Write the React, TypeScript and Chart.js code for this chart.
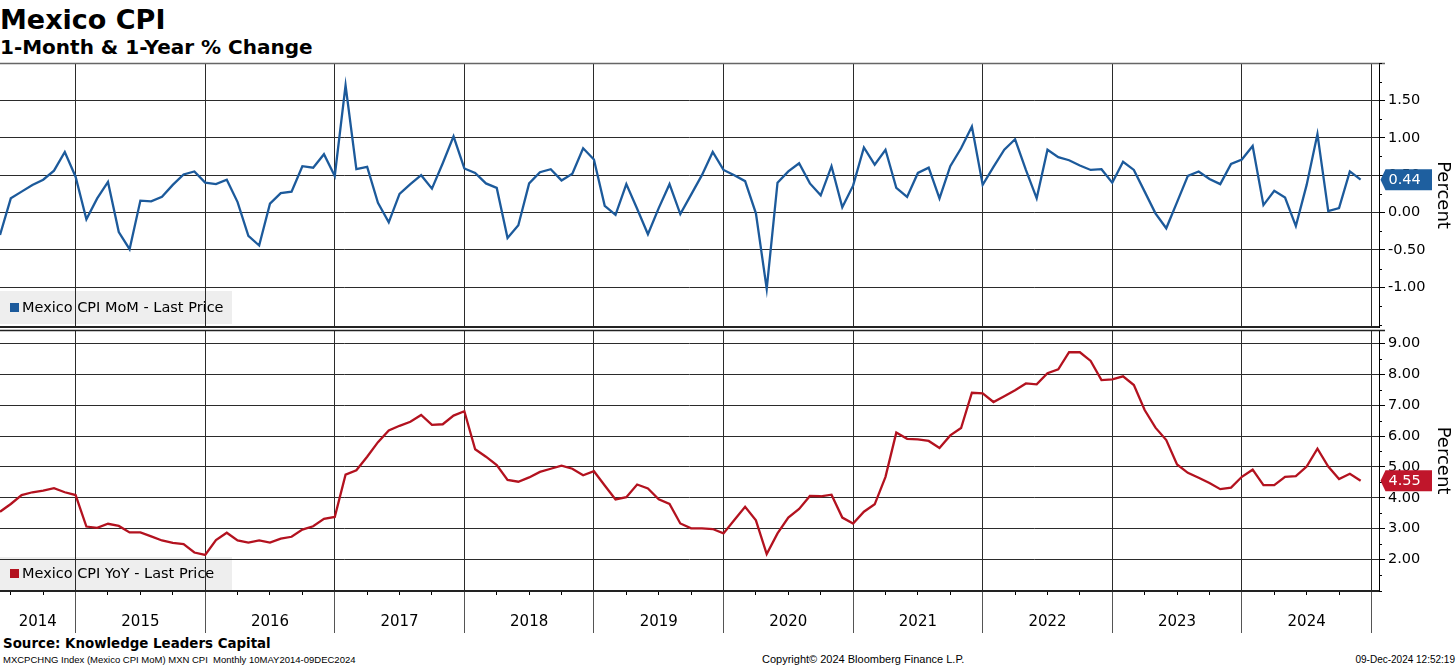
import React, { useEffect, useRef } from 'react';
import { Chart, registerables } from 'chart.js';

Chart.register(...registerables);

const FONT = '"DejaVu Sans", Verdana, sans-serif';
const SMALL_FONT = '"Liberation Sans", Arial, sans-serif';
const BLUE = '#1c5a9b';
const RED = '#b3121f';
const BLUE_BOX = '#1e5f9f';
const RED_BOX = '#c0162b';
const GRID = '#2b2b2b';

// first observation: May 2014 (month index 0), monthly to Nov 2024
const startMonth = 4; // 0 = January
const yearLabels = ['2014', '2015', '2016', '2017', '2018', '2019', '2020', '2021', '2022', '2023', '2024'];

// Mexico CPI MoM (%)
const momValues = [
  -0.30, 0.19, 0.28, 0.37, 0.44, 0.56, 0.81, 0.48, -0.09, 0.19, 0.41, -0.26,
  -0.49, 0.16, 0.15, 0.21, 0.37, 0.51, 0.55, 0.40, 0.38, 0.44, 0.14, -0.31,
  -0.44, 0.12, 0.26, 0.28, 0.62, 0.60, 0.78, 0.49, 1.70, 0.58, 0.61, 0.13,
  -0.13, 0.25, 0.38, 0.50, 0.32, 0.66, 1.02, 0.59, 0.53, 0.39, 0.33, -0.34,
  -0.17, 0.39, 0.54, 0.58, 0.43, 0.52, 0.86, 0.71, 0.09, -0.03, 0.38, 0.05,
  -0.29, 0.06, 0.38, -0.02, 0.24, 0.50, 0.81, 0.57, 0.50, 0.42, -0.01, -1.02,
  0.40, 0.55, 0.66, 0.39, 0.23, 0.62, 0.07, 0.36, 0.87, 0.64, 0.84, 0.33,
  0.21, 0.53, 0.60, 0.19, 0.62, 0.86, 1.15, 0.37, 0.61, 0.84, 0.98, 0.57,
  0.19, 0.84, 0.74, 0.70, 0.63, 0.57, 0.58, 0.40, 0.68, 0.57, 0.28, -0.01,
  -0.21, 0.14, 0.49, 0.55, 0.45, 0.38, 0.65, 0.71, 0.89, 0.10, 0.29, 0.20,
  -0.18, 0.37, 1.05, 0.02, 0.06, 0.55, 0.44,
];

// Mexico CPI YoY (%)
const yoyValues = [
  3.55, 3.80, 4.09, 4.18, 4.23, 4.31, 4.18, 4.09, 3.07, 3.03, 3.16, 3.09,
  2.88, 2.88, 2.75, 2.62, 2.54, 2.50, 2.23, 2.15, 2.63, 2.87, 2.62, 2.55,
  2.62, 2.55, 2.68, 2.74, 2.97, 3.08, 3.32, 3.38, 4.75, 4.89, 5.33, 5.80,
  6.18, 6.33, 6.46, 6.68, 6.36, 6.38, 6.66, 6.80, 5.57, 5.33, 5.06, 4.58,
  4.52, 4.66, 4.84, 4.94, 5.04, 4.94, 4.73, 4.86, 4.40, 3.95, 4.02, 4.43,
  4.30, 3.95, 3.80, 3.17, 3.01, 3.01, 2.99, 2.85, 3.28, 3.71, 3.27, 2.18,
  2.85, 3.36, 3.64, 4.06, 4.05, 4.10, 3.36, 3.17, 3.55, 3.79, 4.68, 6.11,
  5.91, 5.89, 5.84, 5.61, 6.02, 6.26, 7.40, 7.38, 7.10, 7.29, 7.48, 7.70,
  7.67, 8.03, 8.16, 8.71, 8.71, 8.43, 7.81, 7.83, 7.93, 7.65, 6.84, 6.27,
  5.87, 5.08, 4.81, 4.65, 4.48, 4.28, 4.33, 4.68, 4.91, 4.41, 4.41, 4.68,
  4.70, 5.01, 5.59, 5.01, 4.61, 4.78, 4.55,
];

const momTicks = [-1, -0.5, 0, 0.5, 1, 1.5];
const yoyTicks = [2, 3, 4, 5, 6, 7, 8, 9];

const X_MIN = 0;
const X_MAX = 127.7;
const yearBoundaries = yearLabels.map((_, k) => (k + 1) * 12 - startMonth - 1);
const yearCenters = yearLabels.map((_, k) => (k === 0 ? yearBoundaries[0] / 2 : yearBoundaries[k - 1] + 6));
const quarterTicks: number[] = [];
for (let i = 0; i <= yearBoundaries[yearBoundaries.length - 1]; i++) {
  if ([2, 5, 8].includes((startMonth + i) % 12)) quarterTicks.push(i);
}

const setTicks = (vals: number[]) => (s: any) => {
  s.ticks = vals.map((v) => ({ value: v }));
};

const fixSize = (dim: 'width' | 'height', size: number) => (s: any) => {
  s[dim] = size;
  s.paddingTop = 0;
  s.paddingBottom = 0;
  s.paddingLeft = 0;
  s.paddingRight = 0;
};

function makeDecor(cfg: any) {
  return {
    id: 'decor_' + cfg.key,
    beforeDraw(chart: any) {
      const { ctx, chartArea } = chart;
      const bh = 33;
      const bw = 232;
      const bx = chartArea.left;
      const by = chartArea.bottom - cfg.legendGap - bh;
      ctx.save();
      ctx.fillStyle = '#eeeeee';
      ctx.fillRect(bx, by, bw, bh);
      ctx.fillStyle = cfg.color;
      ctx.fillRect(bx + 10, by + bh / 2 - 4.5, 9, 9);
      ctx.fillStyle = '#000';
      ctx.font = `14.5px ${FONT}`;
      ctx.textBaseline = 'middle';
      ctx.textAlign = 'left';
      ctx.fillText(cfg.legend, bx + 22, by + bh / 2 + 0.5);
      ctx.restore();
    },
    afterDraw(chart: any) {
      const { ctx, chartArea } = chart;
      const ys = chart.scales.y;
      ctx.save();
      ctx.strokeStyle = cfg.frameColor;
      ctx.lineWidth = cfg.frameWidth;
      ctx.beginPath();
      ctx.moveTo(chartArea.left, chartArea.top + 0.5);
      ctx.lineTo(ys.left + 6, chartArea.top + 0.5);
      ctx.stroke();
      ctx.strokeStyle = '#000';
      ctx.lineWidth = 1;
      for (let v = Math.ceil(ys.min / cfg.minor) * cfg.minor; v <= ys.max + 1e-9; v += cfg.minor) {
        if (cfg.ticks.some((t: number) => Math.abs(t - v) < 1e-6)) continue;
        const py = Math.round(ys.getPixelForValue(v)) + 0.5;
        ctx.beginPath();
        ctx.moveTo(ys.left, py);
        ctx.lineTo(ys.left + 3, py);
        ctx.stroke();
      }
      const last = cfg.values[cfg.values.length - 1];
      const py = ys.getPixelForValue(last);
      const l = ys.left;
      ctx.fillStyle = cfg.boxColor;
      ctx.beginPath();
      ctx.moveTo(l + 1.5, py);
      ctx.lineTo(l + 6.5, py - 10.5);
      ctx.lineTo(l + 53, py - 10.5);
      ctx.lineTo(l + 53, py + 10.5);
      ctx.lineTo(l + 6.5, py + 10.5);
      ctx.closePath();
      ctx.fill();
      ctx.fillStyle = '#fff';
      ctx.font = `14.5px ${FONT}`;
      ctx.textBaseline = 'middle';
      ctx.textAlign = 'left';
      ctx.fillText(last.toFixed(2), l + 9.5, py + 0.5);
      ctx.restore();
    },
  };
}

function yAxis(min: number, max: number, ticks: number[]) {
  return {
    type: 'linear',
    position: 'right',
    min,
    max,
    afterBuildTicks: setTicks(ticks),
    afterFit: fixSize('width', 77),
    ticks: {
      callback: (v: any) => Number(v).toFixed(2),
      font: { size: 14.5, family: FONT },
      color: '#000',
      padding: 3,
    },
    grid: { color: GRID, lineWidth: 1, tickLength: 6, tickColor: '#000' },
    border: { display: true, color: '#000', width: 1 },
    title: {
      display: true,
      text: 'Percent',
      color: '#000',
      font: { size: 18, family: FONT },
      padding: { top: 3, bottom: 0 },
    },
  };
}

export default function App() {
  const topRef = useRef<HTMLCanvasElement>(null);
  const botRef = useRef<HTMLCanvasElement>(null);

  useEffect(() => {
    Chart.defaults.font.family = FONT;
    const common: any = {
      animation: false,
      responsive: false,
      maintainAspectRatio: false,
      events: [],
      plugins: { legend: { display: false }, tooltip: { enabled: false } },
    };

    const top = new Chart(topRef.current as HTMLCanvasElement, {
      type: 'line',
      data: {
        datasets: [
          {
            data: momValues.map((v, i) => ({ x: i, y: v })),
            borderColor: BLUE,
            borderWidth: 2.3,
            pointRadius: 0,
            tension: 0,
            xAxisID: 'x',
            yAxisID: 'y',
          },
        ],
      },
      options: {
        ...common,
        layout: { padding: { top: 3, left: 0, right: 0, bottom: 0 }, autoPadding: false },
        scales: {
          x: {
            type: 'linear',
            position: 'bottom',
            min: X_MIN,
            max: X_MAX,
            afterBuildTicks: setTicks(yearBoundaries),
            afterFit: fixSize('height', 4),
            ticks: { display: false },
            grid: { color: GRID, lineWidth: 1, drawTicks: false },
            border: { display: true, color: '#222', width: 2 },
          },
          y: yAxis(-1.53, 2.0, momTicks),
        },
      } as any,
      plugins: [
        makeDecor({
          key: 'top',
          legend: 'Mexico CPI MoM - Last Price',
          color: BLUE,
          legendGap: 3,
          frameColor: '#666',
          frameWidth: 1.5,
          minor: 0.25,
          ticks: momTicks,
          values: momValues,
          boxColor: BLUE_BOX,
        }),
      ],
    });

    const bot = new Chart(botRef.current as HTMLCanvasElement, {
      type: 'line',
      data: {
        datasets: [
          {
            data: yoyValues.map((v, i) => ({ x: i, y: v })),
            borderColor: RED,
            borderWidth: 2.3,
            pointRadius: 0,
            tension: 0,
            xAxisID: 'x',
            yAxisID: 'y',
          },
        ],
      },
      options: {
        ...common,
        layout: { padding: { top: 4, left: 0, right: 0, bottom: 0 }, autoPadding: false },
        scales: {
          xg: {
            type: 'linear',
            position: 'bottom',
            weight: 0,
            min: X_MIN,
            max: X_MAX,
            afterBuildTicks: setTicks(yearBoundaries),
            afterFit: fixSize('height', 0),
            ticks: { display: false },
            grid: { color: GRID, lineWidth: 1, tickLength: 42, tickColor: '#555' },
            border: { display: true, color: '#222', width: 2 },
          },
          xq: {
            type: 'linear',
            position: 'bottom',
            weight: 1,
            min: X_MIN,
            max: X_MAX,
            afterBuildTicks: setTicks(quarterTicks),
            afterFit: fixSize('height', 0),
            ticks: { display: false },
            grid: { drawOnChartArea: false, tickLength: 4, tickColor: '#000', lineWidth: 1 },
            border: { display: false },
          },
          x: {
            type: 'linear',
            position: 'bottom',
            weight: 2,
            min: X_MIN,
            max: X_MAX,
            afterBuildTicks: setTicks(yearCenters),
            afterFit: fixSize('height', 44),
            ticks: {
              autoSkip: false,
              maxRotation: 0,
              padding: 22,
              color: '#000',
              font: { size: 15, family: FONT },
              callback: (_v: any, idx: number) => yearLabels[idx],
            },
            grid: { display: false, drawTicks: false },
            border: { display: false },
          },
          y: yAxis(0.985, 9.43, yoyTicks),
        },
      } as any,
      plugins: [
        makeDecor({
          key: 'bot',
          legend: 'Mexico CPI YoY - Last Price',
          color: RED,
          legendGap: 1,
          frameColor: '#222',
          frameWidth: 1.5,
          minor: 0.5,
          ticks: yoyTicks,
          values: yoyValues,
          boxColor: RED_BOX,
        }),
      ],
    });

    return () => {
      top.destroy();
      bot.destroy();
    };
  }, []);

  const abs = (o: any) => ({ position: 'absolute', whiteSpace: 'nowrap', ...o });

  return (
    <div style={abs({ left: 0, top: 0, width: 1456, height: 666, background: '#fff', overflow: 'hidden', color: '#000' })}>
      <div style={abs({ left: 0, top: 5.5, fontFamily: FONT, fontWeight: 'bold', fontSize: 27, lineHeight: '27px' })}>
        Mexico CPI
      </div>
      <div style={abs({ left: 0, top: 36.5, fontFamily: FONT, fontWeight: 'bold', fontSize: 20, lineHeight: '20px' })}>
        1-Month &amp; 1-Year % Change
      </div>
      <canvas ref={topRef} width={1456} height={271} style={abs({ left: 0, top: 60, width: 1456, height: 271 })} />
      <canvas ref={botRef} width={1456} height={309} style={abs({ left: 0, top: 326, width: 1456, height: 309 })} />
      <div style={abs({ left: 3, top: 636.5, fontFamily: FONT, fontWeight: 'bold', fontSize: 13.4, lineHeight: '14px' })}>
        Source: Knowledge Leaders Capital
      </div>
      <div style={abs({ left: 3, top: 654.5, fontFamily: SMALL_FONT, fontSize: 9.5, lineHeight: '10px' })}>
        MXCPCHNG Index (Mexico CPI MoM) MXN CPI&nbsp;&nbsp;Monthly 10MAY2014-09DEC2024
      </div>
      <div style={abs({ left: 762, top: 654, fontFamily: SMALL_FONT, fontSize: 11, lineHeight: '11px' })}>
        Copyright© 2024 Bloomberg Finance L.P.
      </div>
      <div style={abs({ right: 1, top: 654.5, fontFamily: SMALL_FONT, fontSize: 10, lineHeight: '10px' })}>
        09-Dec-2024 12:52:19
      </div>
    </div>
  );
}
